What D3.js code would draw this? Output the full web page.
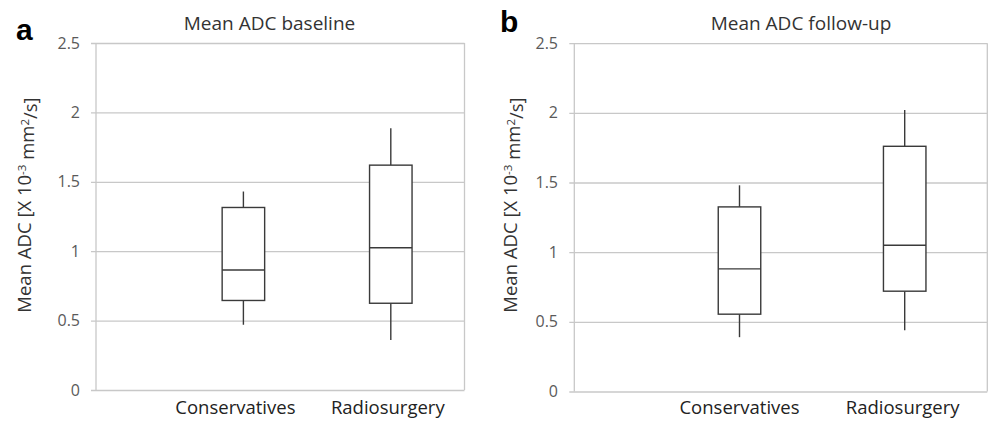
<!DOCTYPE html>
<html>
<head>
<meta charset="utf-8">
<script src="https://cdn.jsdelivr.net/npm/d3@7"></script>
<style>
  html, body { margin: 0; padding: 0; background: #fff; }
  svg { display: block; }
  text { font-family: "Open Sans", "Noto Sans", sans-serif; }
</style>
</head>
<body>
<svg id="chart" width="989" height="421"></svg>
<script>
// ---- data ----
const categories = ["Conservatives", "Radiosurgery"];
const yTicks = [0, 0.5, 1, 1.5, 2, 2.5];
const yTickLabels = ["0", "0.5", "1", "1.5", "2", "2.5"];

const baselineMin    = [0.47, 0.36];
const baselineQ1     = [0.645, 0.625];
const baselineMedian = [0.865, 1.025];
const baselineQ3     = [1.315, 1.62];
const baselineMax    = [1.43, 1.885];

const followupMin    = [0.39, 0.44];
const followupQ1     = [0.555, 0.72];
const followupMedian = [0.88, 1.05];
const followupQ3     = [1.325, 1.76];
const followupMax    = [1.48, 2.02];

const panelLetters = ["a", "b"];
const panelTitles = ["Mean ADC baseline", "Mean ADC follow-up"];

// ---- layout ----
const panels = [
  { letter: panelLetters[0], title: panelTitles[0],
    min: baselineMin, q1: baselineQ1, med: baselineMedian, q3: baselineQ3, max: baselineMax,
    x0: 96, x1: 464.5, y0: 390, y1: 43,
    letterX: 16, letterY: 40, titleX: 269.5, titleY: 30,
    tickLabelX: 80, ylabX: 31, ylabY: 205, catY: 414, catDx: [-8, -3] },
  { letter: panelLetters[1], title: panelTitles[1],
    min: followupMin, q1: followupQ1, med: followupMedian, q3: followupQ3, max: followupMax,
    x0: 574.3, x1: 987.3, y0: 391.5, y1: 43.2,
    letterX: 500, letterY: 32, titleX: 801, titleY: 30,
    tickLabelX: 558, ylabX: 517, ylabY: 205, catY: 414, catDx: [0, -2] }
];

const svg = d3.select("#chart");
const boxW = 42.5;
const gridColor = "#c8c8c8";
const boxColor = "#3a3a3a";
const textSize = "18.5px";

panels.forEach(p => {
  const g = svg.append("g");
  // x positions: category i sits at index i+1 of a 0..2.5 linear scale
  const x = d3.scaleLinear().domain([0, 2.5]).range([p.x0, p.x1]);
  const y = d3.scaleLinear().domain([0, 2.5]).range([p.y0, p.y1]);

  // gridlines + ticks via axis
  const yAxis = d3.axisLeft(y)
    .tickValues(yTicks)
    .tickFormat((d, i) => yTickLabels[i])
    .tickSize(-(p.x1 - p.x0) - 5)
    .tickPadding(0);
  const ya = g.append("g")
    .attr("transform", `translate(${p.x0},0)`)
    .call(yAxis);
  ya.select(".domain").remove();
  ya.selectAll(".tick line")
    .attr("x1", -5).attr("x2", p.x1 - p.x0)
    .attr("stroke", gridColor).attr("stroke-width", 1.3);
  ya.selectAll(".tick text")
    .attr("x", p.tickLabelX - p.x0)
    .attr("text-anchor", "end")
    .attr("fill", "#5a5a5a")
    .style("font-size", "16px")
    .style("font-family", "'Open Sans', sans-serif");

  // frame: left axis line and right border
  g.append("line")
    .attr("x1", p.x0).attr("x2", p.x0)
    .attr("y1", y(2.5)).attr("y2", y(0))
    .attr("stroke", gridColor).attr("stroke-width", 1.3);
  g.append("line")
    .attr("x1", p.x1).attr("x2", p.x1)
    .attr("y1", y(2.5)).attr("y2", y(0))
    .attr("stroke", gridColor).attr("stroke-width", 1.3);

  // boxes
  const data = categories.map((c, i) => ({
    cat: c, idx: i + 1, dx: p.catDx[i],
    min: p.min[i], q1: p.q1[i], med: p.med[i], q3: p.q3[i], max: p.max[i]
  }));
  const bg = g.selectAll(".box").data(data).enter().append("g");
  bg.append("line")
    .attr("x1", d => x(d.idx)).attr("x2", d => x(d.idx))
    .attr("y1", d => y(d.q3)).attr("y2", d => y(d.max))
    .attr("stroke", boxColor).attr("stroke-width", 1.4);
  bg.append("line")
    .attr("x1", d => x(d.idx)).attr("x2", d => x(d.idx))
    .attr("y1", d => y(d.q1)).attr("y2", d => y(d.min))
    .attr("stroke", boxColor).attr("stroke-width", 1.4);
  bg.append("rect")
    .attr("x", d => x(d.idx) - boxW / 2)
    .attr("width", boxW)
    .attr("y", d => y(d.q3))
    .attr("height", d => y(d.q1) - y(d.q3))
    .attr("fill", "#fff")
    .attr("stroke", boxColor).attr("stroke-width", 1.4);
  bg.append("line")
    .attr("x1", d => x(d.idx) - boxW / 2).attr("x2", d => x(d.idx) + boxW / 2)
    .attr("y1", d => y(d.med)).attr("y2", d => y(d.med))
    .attr("stroke", boxColor).attr("stroke-width", 1.4);

  // category labels
  g.selectAll(".cat").data(data).enter().append("text")
    .attr("x", d => x(d.idx) + d.dx)
    .attr("y", p.catY)
    .attr("text-anchor", "middle")
    .attr("fill", "#222")
    .style("font-size", textSize)
    .text(d => d.cat);

  // title
  g.append("text")
    .attr("x", p.titleX).attr("y", p.titleY)
    .attr("text-anchor", "middle")
    .attr("fill", "#333")
    .style("font-size", "19px")
    .text(p.title);

  // panel letter
  g.append("text")
    .attr("x", p.letterX).attr("y", p.letterY)
    .attr("fill", "#000")
    .style("font-family", "'Liberation Sans', Arial, sans-serif")
    .style("font-weight", "bold")
    .style("font-size", "30px")
    .text(p.letter);

  // y-axis label
  const yl = g.append("text")
    .attr("transform", `translate(${p.ylabX},${p.ylabY}) rotate(-90)`)
    .attr("text-anchor", "middle")
    .attr("fill", "#333")
    .style("font-size", textSize);
  yl.append("tspan").text("Mean ADC [X 10");
  yl.append("tspan").attr("dy", "-0.45em").style("font-size", "11.5px").text("-3");
  yl.append("tspan").attr("dy", "0.45em").text(" mm");
  yl.append("tspan").attr("dy", "-0.45em").style("font-size", "11.5px").text("2");
  yl.append("tspan").attr("dy", "0.45em").text("/s]");
});
</script>
</body>
</html>
